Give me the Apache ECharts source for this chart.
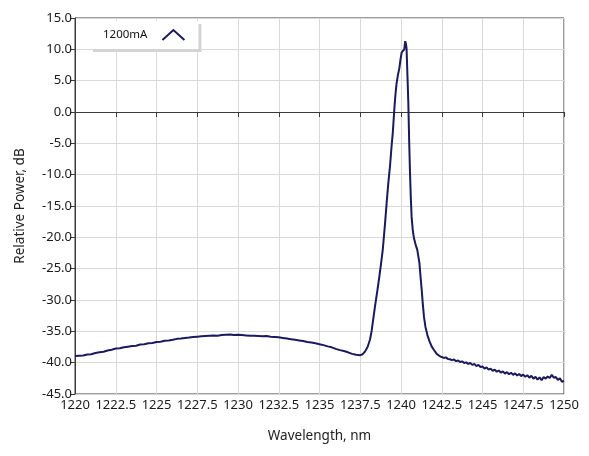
<!DOCTYPE html>
<html>
<head>
<meta charset="utf-8">
<script src="https://cdn.jsdelivr.net/npm/echarts@6/dist/echarts.min.js"></script>
<style>
html,body{margin:0;padding:0;background:#fff;}
#chart{width:589px;height:456px;}
</style>
</head>
<body>
<div id="chart"></div>
<script>
const seriesName = '1200mA';
const xTitle = 'Wavelength, nm';
const yTitle = 'Relative Power, dB';

const wavelength = [
1220.00,1220.25,1220.50,1220.75,1221.00,1221.25,1221.50,1221.75,1222.00,1222.25,
1222.50,1222.75,1223.00,1223.25,1223.50,1223.75,1224.00,1224.25,1224.50,1224.75,
1225.00,1225.25,1225.50,1225.75,1226.00,1226.25,1226.50,1226.75,1227.00,1227.25,
1227.50,1227.75,1228.00,1228.25,1228.50,1228.75,1229.00,1229.25,1229.50,1229.75,
1230.00,1230.25,1230.50,1230.75,1231.00,1231.25,1231.50,1231.75,1232.00,1232.25,
1232.50,1232.75,1233.00,1233.25,1233.50,1233.75,1234.00,1234.25,1234.50,1234.75,
1235.00,1235.25,1235.50,1235.75,1236.00,1236.25,1236.50,1236.75,1237.00,1237.25,
1237.50,1237.65,1237.80,1237.95,1238.10,1238.20,1238.30,1238.40,1238.55,1238.67,
1238.78,1238.88,1239.02,1239.12,1239.22,1239.33,1239.42,1239.50,1239.60,1239.66,
1239.73,1239.82,1239.90,1239.97,1240.04,1240.12,1240.20,1240.26,1240.30,1240.34,
1240.40,1240.45,1240.50,1240.55,1240.60,1240.65,1240.72,1240.80,1240.90,1241.00,
1241.13,1241.20,1241.27,1241.34,1241.41,1241.50,1241.62,1241.75,1241.88,1242.00,
1242.19,1242.35,
1242.500,1242.625,1242.750,1242.875,1243.000,1243.125,1243.250,1243.375,1243.500,1243.625,
1243.750,1243.875,1244.000,1244.125,1244.250,1244.375,1244.500,1244.625,1244.750,1244.875,
1245.000,1245.125,1245.250,1245.375,1245.500,1245.625,1245.750,1245.875,1246.000,1246.125,
1246.250,1246.375,1246.500,1246.625,1246.750,1246.875,1247.000,1247.125,1247.250,1247.375,
1247.500,1247.625,1247.750,1247.875,1248.000,1248.125,1248.250,1248.375,1248.500,1248.625,
1248.750,1248.875,1249.000,1249.125,1249.250,1249.375,1249.500,1249.625,1249.750,1249.875,
1250.000
];

const power = [
-38.95,-38.90,-38.85,-38.70,-38.65,-38.45,-38.35,-38.25,-38.05,-37.95,
-37.75,-37.70,-37.55,-37.45,-37.35,-37.30,-37.10,-37.05,-36.90,-36.85,
-36.70,-36.65,-36.50,-36.45,-36.35,-36.20,-36.15,-36.05,-36.00,-35.90,
-35.85,-35.80,-35.75,-35.70,-35.65,-35.70,-35.60,-35.55,-35.50,-35.60,
-35.55,-35.60,-35.65,-35.70,-35.70,-35.75,-35.80,-35.75,-35.85,-35.90,
-35.95,-36.05,-36.15,-36.25,-36.35,-36.45,-36.55,-36.70,-36.80,-36.90,
-37.05,-37.20,-37.40,-37.55,-37.80,-38.00,-38.15,-38.35,-38.60,-38.75,
-38.80,-38.65,-38.20,-37.50,-36.30,-34.90,-33.00,-31.10,-28.50,-26.30,
-24.10,-22.00,-17.80,-14.50,-11.40,-8.50,-5.50,-3.20,0.80,2.80,
4.60,6.00,7.00,8.40,9.50,9.80,10.00,11.30,10.90,10.20,
5.50,1.40,-4.50,-9.50,-13.50,-16.70,-18.80,-20.20,-21.20,-22.00,
-24.10,-26.30,-28.40,-30.70,-32.70,-34.30,-35.60,-36.60,-37.40,-37.90,
-38.60,-38.90,
-39.10,-39.25,-39.15,-39.40,-39.45,-39.60,-39.50,-39.75,-39.65,-39.90,
-39.80,-40.05,-39.95,-40.20,-40.05,-40.35,-40.20,-40.55,-40.35,-40.70,
-40.60,-40.95,-40.75,-41.10,-40.95,-41.30,-41.10,-41.45,-41.25,-41.60,
-41.40,-41.75,-41.50,-41.85,-41.60,-41.95,-41.70,-42.05,-41.80,-42.15,
-41.90,-42.25,-42.00,-42.40,-42.10,-42.55,-42.25,-42.70,-42.35,-42.80,
-42.30,-42.55,-42.20,-42.45,-41.95,-42.40,-42.30,-42.75,-42.50,-43.05,
-42.90
];

const chart = echarts.init(document.getElementById('chart'), null, {renderer: 'canvas'});
const points = wavelength.map((w, i) => [w, power[i]]);
const font = '"Noto Sans", "Open Sans", sans-serif';
const navy = '#1a1a5c';

chart.setOption({
  animation: false,
  backgroundColor: '#ffffff',
  grid: {left: 75, right: 25, top: 18, bottom: 62, show: true, borderColor: '#3a3a3a', borderWidth: 1, backgroundColor: 'transparent'},
  legend: {
    data: [seriesName],
    left: 90, top: 21,
    align: 'right',
    icon: 'path://M0,10 L11,0 L22,10',
    itemWidth: 22, itemHeight: 10,
    itemStyle: {color: 'transparent', borderColor: navy, borderWidth: 2},
    textStyle: {fontFamily: font, fontSize: 11.5, color: '#111', padding: [0, 10, 0, 0]},
    backgroundColor: '#ffffff',
    padding: [8, 13, 8, 13],
    shadowColor: '#d4d4d4', shadowBlur: 0, shadowOffsetX: 3, shadowOffsetY: 3,
    selectedMode: false
  },
  xAxis: {
    type: 'value', min: 1220, max: 1250, interval: 2.5,
    name: xTitle, nameLocation: 'middle', nameGap: 35,
    nameTextStyle: {fontFamily: font, fontSize: 13.5, color: '#222'},
    axisLine: {show: true, lineStyle: {color: '#3a3a3a', width: 1}},
    axisTick: {show: true, length: 5, lineStyle: {color: '#3a3a3a'}},
    axisLabel: {fontFamily: font, fontSize: 13, color: '#1a1a1a', margin: 5, interval: 0, hideOverlap: false, showMinLabel: true, showMaxLabel: true, formatter: v => String(v)},
    splitLine: {show: true, lineStyle: {color: '#d9d9d9', width: 1}}
  },
  yAxis: {
    type: 'value', min: -45, max: 15, interval: 5,
    name: yTitle, nameLocation: 'middle', nameGap: 48,
    nameTextStyle: {fontFamily: font, fontSize: 13.5, color: '#222'},
    axisLine: {show: true, lineStyle: {color: '#3a3a3a', width: 1}},
    axisTick: {show: true, length: 5, lineStyle: {color: '#3a3a3a'}},
    axisLabel: {fontFamily: font, fontSize: 13, color: '#1a1a1a', margin: 3, formatter: v => v.toFixed(1)},
    splitLine: {show: true, lineStyle: {color: '#d9d9d9', width: 1}}
  },
  series: [{
    name: seriesName, type: 'line', data: points,
    showSymbol: false, symbol: 'none',
    lineStyle: {color: navy, width: 2},
    itemStyle: {color: navy}
  }]
});
</script>
</body>
</html>
